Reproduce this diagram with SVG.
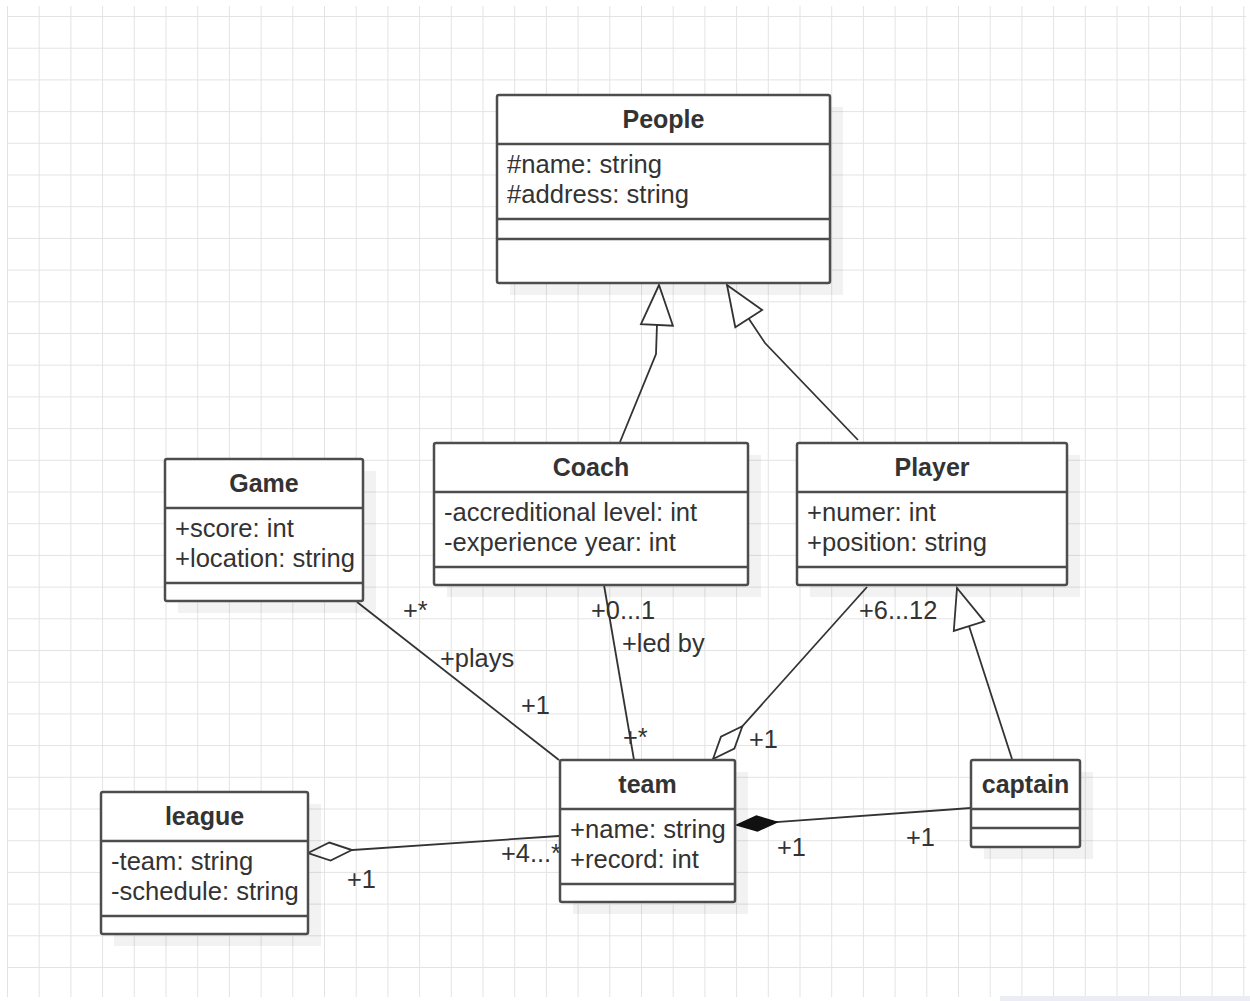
<svg xmlns="http://www.w3.org/2000/svg" width="1250" height="1001" viewBox="0 0 1250 1001">
  <style>
    .box { fill: #ffffff; stroke: #4d4d4d; stroke-width: 2.5; }
    .sep { stroke: #4d4d4d; stroke-width: 2.5; }
    .shadow { fill: #000000; fill-opacity: 0.05; }
    .title { font-family: "Liberation Sans", Arial, sans-serif; font-size: 25px; font-weight: bold; fill: #333333; text-anchor: middle; }
    .attr { font-family: "Liberation Sans", Arial, sans-serif; font-size: 25.6px; fill: #333333; }
    .lbl { font-family: "Liberation Sans", Arial, sans-serif; font-size: 25.4px; fill: #333333; }
    .conn { fill: none; stroke: #333333; stroke-width: 1.8; }
  </style>
  <defs>
    <pattern id="grid" x="7" y="16" width="31.7" height="31.7" patternUnits="userSpaceOnUse">
      <path d="M0,0.5 H31.7 M0.5,0 V31.7" fill="none" stroke="#e3e3e3" stroke-width="1"/>
    </pattern>
    <marker id="gen" markerUnits="userSpaceOnUse" markerWidth="44" markerHeight="36" refX="40" refY="17" orient="auto" viewBox="-2 -1 44 36">
      <path d="M0,1 L40,17 L0,33 Z" fill="#ffffff" stroke="#333333" stroke-width="1.8"/>
    </marker>
    <marker id="agg" markerUnits="userSpaceOnUse" markerWidth="48" markerHeight="24" refX="2" refY="11" orient="auto" viewBox="0 0 48 22">
      <path d="M2,11 L24,2 L46,11 L24,20 Z" fill="#ffffff" stroke="#333333" stroke-width="1.8"/>
    </marker>
    <marker id="comp" markerUnits="userSpaceOnUse" markerWidth="46" markerHeight="20" refX="1" refY="9" orient="auto" viewBox="0 0 46 18">
      <path d="M1,9 L21,1.5 L41,9 L21,16.5 Z" fill="#111111" stroke="#111111" stroke-width="1.5"/>
    </marker>
  </defs>

  <rect x="0" y="0" width="1250" height="1001" fill="#ffffff"/>
  <rect x="7" y="6" width="1239" height="991" fill="url(#grid)"/>
  <rect x="1000" y="996" width="250" height="5" fill="#ececf4"/>

  <g id="connectors">
    <path class="conn" d="M620,442 L656,354 L657,324 L659,285" marker-end="url(#gen)"/>
    <path class="conn" d="M858,440 L765,343 L749,319 L727,285" marker-end="url(#gen)"/>
    <path class="conn" d="M1012,759 L969,626 L957,588" marker-end="url(#gen)"/>
    <path class="conn" d="M357,602 L559,760"/>
    <path class="conn" d="M604,585 L634,760"/>
    <path class="conn" d="M713,759 L867,587" marker-start="url(#agg)"/>
    <path class="conn" d="M308,853 L559,836" marker-start="url(#agg)"/>
    <path class="conn" d="M737,825 L971,808" marker-start="url(#comp)"/>
    <text class="lbl" x="403" y="619">+*</text>
    <text class="lbl" x="440" y="667">+plays</text>
    <text class="lbl" x="521" y="714">+1</text>
    <text class="lbl" x="591" y="619">+0...1</text>
    <text class="lbl" x="622" y="652">+led by</text>
    <text class="lbl" x="623" y="746">+*</text>
    <text class="lbl" x="859" y="619">+6...12</text>
    <text class="lbl" x="749" y="748">+1</text>
    <text class="lbl" x="777" y="856">+1</text>
    <text class="lbl" x="906" y="846">+1</text>
    <text class="lbl" x="347" y="888">+1</text>
    <text class="lbl" x="501" y="862">+4...*</text>
  </g>

  <g id="people">
    <rect class="shadow" x="510" y="107" width="333" height="188"/>
    <rect class="box" x="497" y="95" width="333" height="188" rx="2"/>
    <line class="sep" x1="497" y1="144" x2="830" y2="144"/>
    <line class="sep" x1="497" y1="219" x2="830" y2="219"/>
    <line class="sep" x1="497" y1="239" x2="830" y2="239"/>
    <text class="title" x="663.5" y="128">People</text>
    <text class="attr" x="507" y="173">#name: string</text>
    <text class="attr" x="507" y="203">#address: string</text>
  </g>

  <g id="coach">
    <rect class="shadow" x="447" y="455" width="314" height="142"/>
    <rect class="box" x="434" y="443" width="314" height="142" rx="2"/>
    <line class="sep" x1="434" y1="492" x2="748" y2="492"/>
    <line class="sep" x1="434" y1="567" x2="748" y2="567"/>
    <text class="title" x="591" y="476">Coach</text>
    <text class="attr" x="444" y="521">-accreditional level: int</text>
    <text class="attr" x="444" y="551">-experience year: int</text>
  </g>

  <g id="player">
    <rect class="shadow" x="810" y="455" width="270" height="142"/>
    <rect class="box" x="797" y="443" width="270" height="142" rx="2"/>
    <line class="sep" x1="797" y1="492" x2="1067" y2="492"/>
    <line class="sep" x1="797" y1="567" x2="1067" y2="567"/>
    <text class="title" x="932" y="476">Player</text>
    <text class="attr" x="807" y="521">+numer: int</text>
    <text class="attr" x="807" y="551">+position: string</text>
  </g>

  <g id="game">
    <rect class="shadow" x="178" y="471" width="198" height="142"/>
    <rect class="box" x="165" y="459" width="198" height="142" rx="2"/>
    <line class="sep" x1="165" y1="508" x2="363" y2="508"/>
    <line class="sep" x1="165" y1="583" x2="363" y2="583"/>
    <text class="title" x="264" y="492">Game</text>
    <text class="attr" x="175" y="537">+score: int</text>
    <text class="attr" x="175" y="567">+location: string</text>
  </g>

  <g id="team">
    <rect class="shadow" x="573" y="772" width="175" height="142"/>
    <rect class="box" x="560" y="760" width="175" height="142" rx="2"/>
    <line class="sep" x1="560" y1="809" x2="735" y2="809"/>
    <line class="sep" x1="560" y1="884" x2="735" y2="884"/>
    <text class="title" x="647.5" y="793">team</text>
    <text class="attr" x="570" y="838">+name: string</text>
    <text class="attr" x="570" y="868">+record: int</text>
  </g>

  <g id="league">
    <rect class="shadow" x="114" y="804" width="207" height="142"/>
    <rect class="box" x="101" y="792" width="207" height="142" rx="2"/>
    <line class="sep" x1="101" y1="841" x2="308" y2="841"/>
    <line class="sep" x1="101" y1="916" x2="308" y2="916"/>
    <text class="title" x="204.5" y="825">league</text>
    <text class="attr" x="111" y="870">-team: string</text>
    <text class="attr" x="111" y="900">-schedule: string</text>
  </g>

  <g id="captain">
    <rect class="shadow" x="984" y="772" width="109" height="87"/>
    <rect class="box" x="971" y="760" width="109" height="87" rx="2"/>
    <line class="sep" x1="971" y1="809" x2="1080" y2="809"/>
    <line class="sep" x1="971" y1="828" x2="1080" y2="828"/>
    <text class="title" x="1025.5" y="793">captain</text>
  </g>
</svg>
